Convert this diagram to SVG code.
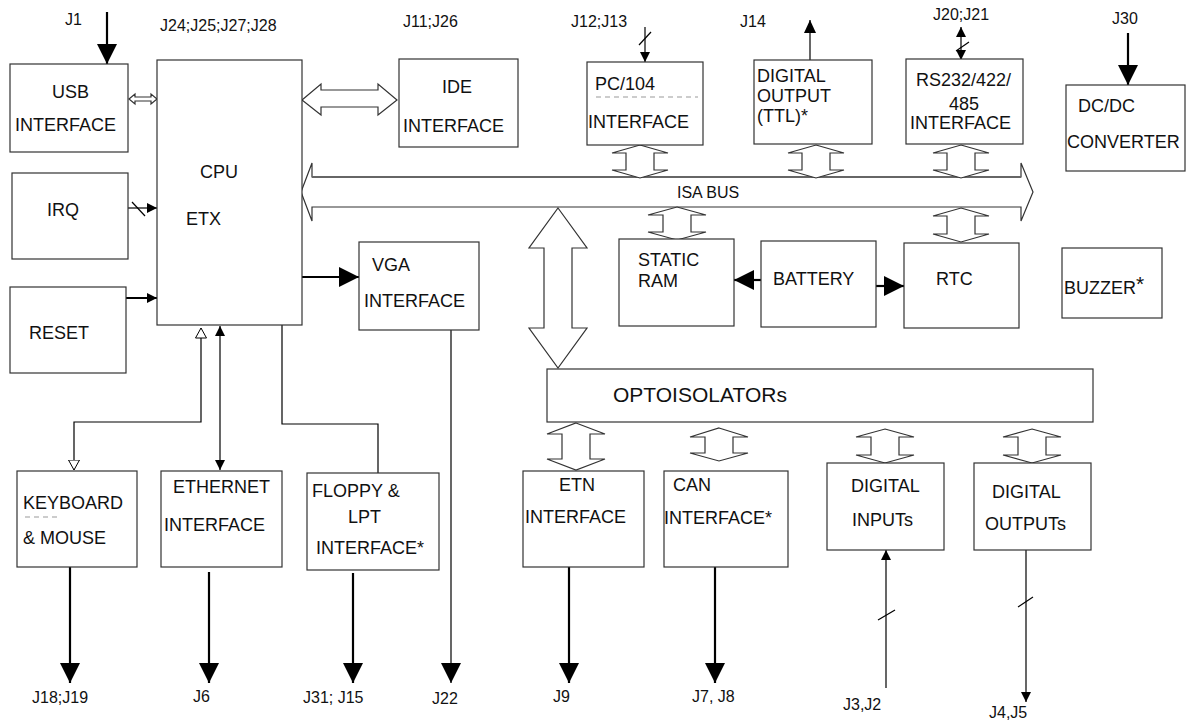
<svg xmlns="http://www.w3.org/2000/svg" width="1189" height="721" viewBox="0 0 1189 721">
<style>
  .box { fill: #fff; stroke: #333; stroke-width: 1.2; }
  .t { font-family: "Liberation Sans", Arial, sans-serif; font-size: 18px; fill: #111; }
  .big-t { font-size: 21px; }
  .lbl { font-family: "Liberation Sans", Arial, sans-serif; font-size: 16px; fill: #111; }
  .ln { fill: none; stroke: #000; stroke-width: 1.2; }
  .thick { fill: none; stroke: #000; stroke-width: 2.2; }
  .dbl { fill: #fff; stroke: #333; stroke-width: 1.2; stroke-linejoin: miter; }
  .dash { stroke: #999; stroke-width: 1; stroke-dasharray: 5,4; }
</style>
<defs>
  <marker id="big" viewBox="0 0 20 20" markerWidth="20" markerHeight="20" refX="20" refY="10" orient="auto" markerUnits="userSpaceOnUse">
    <path d="M0,0 L20,10 L0,20 z" fill="#000"/>
  </marker>
  <marker id="small" viewBox="0 0 10 10" markerWidth="10" markerHeight="10" refX="10" refY="5" orient="auto-start-reverse" markerUnits="userSpaceOnUse">
    <path d="M0,0 L10,5 L0,10 z" fill="#000"/>
  </marker>
  <marker id="med" viewBox="0 0 13 12" markerWidth="13" markerHeight="12" refX="13" refY="6" orient="auto" markerUnits="userSpaceOnUse">
    <path d="M0,0 L13,6 L0,12 z" fill="#000"/>
  </marker>
  <marker id="hollow" viewBox="0 0 11 12" markerWidth="11" markerHeight="12" refX="10.5" refY="6" orient="auto-start-reverse" markerUnits="userSpaceOnUse">
    <path d="M0.5,0.5 L10.5,6 L0.5,11.5 z" fill="#fff" stroke="#000" stroke-width="1"/>
  </marker>
</defs>
<rect width="1189" height="721" fill="#fff"/>

<g id="connectors">
  <!-- J1 into USB -->
  <path class="thick" d="M107,12 V64" marker-end="url(#big)"/>
  <!-- USB <-> CPU -->
  <polygon class="dbl" points="129,99 135,94 135,97 151,97 151,94 157,99 151,104 151,101 135,101 135,104"/>
  <!-- CPU <-> IDE -->
  <polygon class="dbl" points="302,100 321,84 321,90 378,90 378,84 397,100 378,115 378,107 321,107 321,115"/>
  <!-- J12;J13 into PC/104 -->
  <path class="ln" d="M645,27 V62" marker-end="url(#small)"/>
  <path class="ln" d="M639,45 L651,32"/>
  <!-- Digital output (TTL) to J14 -->
  <path class="ln" d="M810,60 V20" marker-end="url(#med)"/>
  <!-- J20;J21 -->
  <path class="ln" d="M961,27 V60" marker-start="url(#small)" marker-end="url(#small)"/>
  <path class="ln" d="M956,51 L969,42"/>
  <!-- J30 into DC/DC -->
  <path class="thick" d="M1128,33 V85" marker-end="url(#big)"/>
  <!-- IRQ -> CPU -->
  <path class="ln" d="M128,208 H157" marker-end="url(#small)"/>
  <path class="ln" d="M132,202 L145,216"/>
  <!-- RESET -> CPU -->
  <path class="thick" d="M123,298 H157" marker-end="url(#small)"/>
  <!-- CPU -> VGA -->
  <path class="thick" d="M302,277 H359" marker-end="url(#big)"/>
  <!-- ISA BUS -->
  <polygon class="dbl" points="301,192 312,163 312,177 1021,177 1021,163 1033,192 1021,221 1021,207 312,207 312,221"/>
  <line x1="312" y1="177" x2="1021" y2="177" stroke="#666" stroke-width="2"/>
  <!-- bus taps -->
  <polygon class="dbl" points="640,145 668,153 654,153 654,170 668,170 640,178 612,170 626,170 626,153 612,153"/>
  <polygon class="dbl" points="816,145 844,153 830,153 830,170 844,170 816,178 788,170 802,170 802,153 788,153"/>
  <polygon class="dbl" points="961,145 989,153 975,153 975,170 989,170 961,178 933,170 947,170 947,153 933,153"/>
  <polygon class="dbl" points="677,207 706,215 691,215 691,232 706,232 677,240 648,232 663,232 663,215 648,215"/>
  <polygon class="dbl" points="961,208 989,216 975,216 975,234 989,234 961,242 933,234 947,234 947,216 933,216"/>
  <!-- bus to optoisolators -->
  <polygon class="dbl" points="558,208 587,248 572,248 572,328 587,328 558,368 529,328 544,328 544,248 529,248"/>
  <!-- battery arrows -->
  <path class="thick" d="M761,280 H734" marker-end="url(#big)"/>
  <path class="thick" d="M876,286 H904" marker-end="url(#big)"/>
  <!-- optoisolator taps -->
  <polygon class="dbl" points="576,423 605,434 590,434 590,459 605,459 576,470 547,459 562,459 562,434 547,434"/>
  <polygon class="dbl" points="719,428 748,437 733,437 733,453 748,453 719,461 690,453 705,453 705,437 690,437"/>
  <polygon class="dbl" points="885,429 914,437 899,437 899,455 914,455 885,463 856,455 871,455 871,437 856,437"/>
  <polygon class="dbl" points="1032,429 1061,437 1046,437 1046,455 1061,455 1032,463 1003,455 1018,455 1018,437 1003,437"/>
  <!-- CPU bottom connectors -->
  <path class="ln" d="M201,328 V422 H74 V470" marker-start="url(#hollow)" marker-end="url(#hollow)"/>
  <path class="ln" d="M220,326 V470" marker-start="url(#small)" marker-end="url(#small)"/>
  <path class="ln" d="M282,325 V424 H378 V473"/>
  <!-- outputs to connectors -->
  <path class="ln" d="M451,330 V683" marker-end="url(#big)"/>
  <path class="thick" d="M70,567 V683" marker-end="url(#big)"/>
  <path class="thick" d="M209,572 V683" marker-end="url(#big)"/>
  <path class="thick" d="M353,573 V683" marker-end="url(#big)"/>
  <path class="thick" d="M569,563 V683" marker-end="url(#big)"/>
  <path class="thick" d="M715,563 V683" marker-end="url(#big)"/>
  <path class="ln" d="M886,688 V550" marker-end="url(#small)"/>
  <path class="ln" d="M878,620 L895,610"/>
  <path class="ln" d="M1026,550 V702" marker-end="url(#small)"/>
  <path class="ln" d="M1018,607 L1033,597"/>
</g>

<g id="labels">
  <text class="lbl" x="65" y="25">J1</text>
  <text class="lbl" x="160" y="31">J24;J25;J27;J28</text>
  <text class="lbl" x="403" y="27">J11;J26</text>
  <text class="lbl" x="571" y="27">J12;J13</text>
  <text class="lbl" x="740" y="27">J14</text>
  <text class="lbl" x="933" y="20">J20;J21</text>
  <text class="lbl" x="1112" y="24">J30</text>
  <text class="lbl" x="677" y="198">ISA BUS</text>
  <text class="lbl" x="32" y="703">J18;J19</text>
  <text class="lbl" x="193" y="702">J6</text>
  <text class="lbl" x="303" y="703">J31; J15</text>
  <text class="lbl" x="432" y="704">J22</text>
  <text class="lbl" x="553" y="702">J9</text>
  <text class="lbl" x="692" y="702">J7, J8</text>
  <text class="lbl" x="843" y="710">J3,J2</text>
  <text class="lbl" x="989" y="718">J4,J5</text>
</g>

<g id="usb"><rect class="box" x="10" y="64" width="118" height="88"/>
  <text class="t" x="52" y="98">USB</text><text class="t" x="15" y="131">INTERFACE</text></g>
<g id="cpu"><rect class="box" x="157" y="60" width="145" height="265"/>
  <text class="t" x="200" y="178">CPU</text><text class="t" x="186" y="225">ETX</text></g>
<g id="irq"><rect class="box" x="12" y="173" width="116" height="86"/>
  <text class="t" x="47" y="216">IRQ</text></g>
<g id="reset"><rect class="box" x="10" y="287" width="116" height="86"/>
  <text class="t" x="29" y="339">RESET</text></g>
<g id="ide"><rect class="box" x="399" y="59" width="119" height="88"/>
  <text class="t" x="442" y="93">IDE</text><text class="t" x="403" y="132">INTERFACE</text></g>
<g id="pc104"><rect class="box" x="587" y="62" width="116" height="83"/>
  <text class="t" x="595" y="90">PC/104</text>
  <line class="dash" x1="596" y1="97" x2="698" y2="97"/>
  <text class="t" x="588" y="128">INTERFACE</text></g>
<g id="digital-output"><rect class="box" x="754" y="60" width="118" height="84"/>
  <text class="t" x="757" y="82">DIGITAL</text><text class="t" x="757" y="102">OUTPUT</text><text class="t" x="757" y="122">(TTL)*</text></g>
<g id="rs232"><rect class="box" x="906" y="59" width="117" height="85"/>
  <text class="t" x="916" y="86">RS232/422/</text><text class="t" x="964" y="110" text-anchor="middle">485</text><text class="t" x="910" y="129">INTERFACE</text></g>
<g id="dcdc"><rect class="box" x="1066" y="85" width="119" height="86"/>
  <text class="t" x="1078" y="112">DC/DC</text><text class="t" x="1067" y="148">CONVERTER</text></g>
<g id="vga"><rect class="box" x="359" y="242" width="120" height="88"/>
  <text class="t" x="372" y="271">VGA</text><text class="t" x="364" y="307">INTERFACE</text></g>
<g id="static-ram"><rect class="box" x="619" y="239" width="115" height="87"/>
  <text class="t" x="638" y="266">STATIC</text><text class="t" x="638" y="287">RAM</text></g>
<g id="battery"><rect class="box" x="761" y="241" width="115" height="86"/>
  <text class="t" x="773" y="285">BATTERY</text></g>
<g id="rtc"><rect class="box" x="904" y="243" width="115" height="85"/>
  <text class="t" x="936" y="285">RTC</text></g>
<g id="buzzer"><rect class="box" x="1062" y="248" width="100" height="70"/>
  <text class="t" x="1064" y="294">BUZZER<tspan style="font-size:21px" dy="-3">*</tspan></text></g>
<g id="optoisolators"><rect class="box" x="547" y="369" width="546" height="53"/>
  <text class="t big-t" x="613" y="402">OPTOISOLATORs</text></g>
<g id="keyboard"><rect class="box" x="17" y="471" width="120" height="96"/>
  <text class="t" x="23" y="509">KEYBOARD</text>
  <line class="dash" x1="25" y1="517" x2="60" y2="517"/>
  <text class="t" x="23" y="544">&amp; MOUSE</text></g>
<g id="ethernet"><rect class="box" x="161" y="471" width="121" height="96"/>
  <text class="t" x="173" y="493">ETHERNET</text><text class="t" x="164" y="531">INTERFACE</text></g>
<g id="floppy"><rect class="box" x="307" y="473" width="132" height="97"/>
  <text class="t" x="312" y="497">FLOPPY &amp;</text><text class="t" x="348" y="523">LPT</text><text class="t" x="316" y="554">INTERFACE*</text></g>
<g id="etn"><rect class="box" x="523" y="471" width="121" height="96"/>
  <text class="t" x="559" y="491">ETN</text><text class="t" x="525" y="523">INTERFACE</text></g>
<g id="can"><rect class="box" x="664" y="471" width="124" height="96"/>
  <text class="t" x="673" y="491">CAN</text><text class="t" x="664" y="524">INTERFACE*</text></g>
<g id="digital-inputs"><rect class="box" x="827" y="463" width="117" height="87"/>
  <text class="t" x="851" y="492">DIGITAL</text><text class="t" x="852" y="526">INPUTs</text></g>
<g id="digital-outputs"><rect class="box" x="974" y="463" width="117" height="87"/>
  <text class="t" x="992" y="498">DIGITAL</text><text class="t" x="985" y="530">OUTPUTs</text></g>
</svg>
